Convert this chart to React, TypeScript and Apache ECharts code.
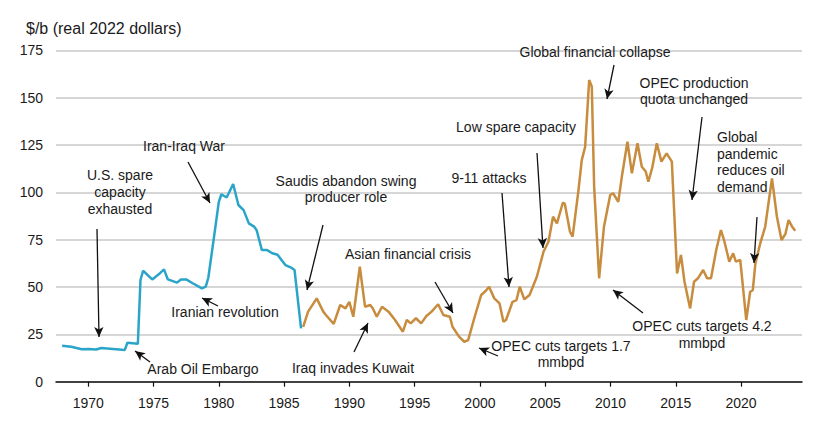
import React, { useEffect, useRef } from "react";
import * as echarts from "echarts";

const FONT = "'Liberation Sans', Arial, sans-serif";

const xTickYears = [1970, 1975, 1980, 1985, 1990, 1995, 2000, 2005, 2010, 2015, 2020];

const blueYears = [1968.0, 1968.7, 1969.5, 1970.0, 1970.6, 1971.0, 1971.9, 1972.6, 1972.8, 1973.0, 1973.8, 1974.0, 1974.2, 1974.9, 1975.4, 1975.8, 1976.1, 1976.8, 1977.1, 1977.5, 1978.0, 1978.7, 1979.0, 1979.2, 1979.6, 1980.0, 1980.2, 1980.6, 1981.1, 1981.5, 1981.9, 1982.3, 1982.7, 1982.9, 1983.3, 1983.7, 1984.1, 1984.5, 1984.8, 1985.1, 1985.5, 1985.8, 1986.3];
const blueVals = [19.0, 18.5, 17.1, 17.3, 17.0, 17.8, 17.3, 16.9, 16.8, 20.6, 20.0, 53.7, 58.6, 54.0, 56.7, 59.3, 54.0, 52.3, 54.0, 54.0, 52.0, 49.3, 50.2, 55.0, 74.8, 95.0, 99.0, 97.3, 104.4, 93.3, 90.6, 83.6, 81.9, 80.0, 69.5, 69.5, 67.8, 67.0, 64.3, 61.6, 60.4, 59.0, 28.2];

const orangeYears = [1986.46, 1986.84, 1987.5, 1988.0, 1988.2, 1988.8, 1989.3, 1989.7, 1990.0, 1990.3, 1990.8, 1991.2, 1991.6, 1991.8, 1992.1, 1992.5, 1993.0, 1993.5, 1994.1, 1994.4, 1994.7, 1995.1, 1995.5, 1995.9, 1996.3, 1996.8, 1997.2, 1997.7, 1997.9, 1998.4, 1998.8, 1999.1, 1999.6, 2000.1, 2000.5, 2000.7, 2001.1, 2001.5, 2001.8, 2002.0, 2002.5, 2002.8, 2003.05, 2003.4, 2003.8, 2004.36, 2004.87, 2005.25, 2005.6, 2005.9, 2006.35, 2006.5, 2006.9, 2007.1, 2007.55, 2007.8, 2008.06, 2008.37, 2008.57, 2008.75, 2009.13, 2009.5, 2009.98, 2010.2, 2010.6, 2010.87, 2011.3, 2011.64, 2012.07, 2012.4, 2012.7, 2012.9, 2013.2, 2013.55, 2013.9, 2014.3, 2014.7, 2015.1, 2015.4, 2015.67, 2016.1, 2016.4, 2016.7, 2017.1, 2017.4, 2017.7, 2018.1, 2018.46, 2018.7, 2019.1, 2019.4, 2019.6, 2019.94, 2020.4, 2020.7, 2020.9, 2021.1, 2021.47, 2021.85, 2022.37, 2022.75, 2023.1, 2023.4, 2023.64, 2023.9, 2024.15];
const orangeVals = [29.0, 37.0, 44.0, 37.0, 35.2, 30.5, 40.5, 38.7, 42.2, 34.3, 60.7, 39.6, 40.5, 38.7, 34.3, 39.6, 37.0, 32.6, 26.4, 32.6, 30.8, 33.5, 30.8, 34.7, 37.0, 40.9, 35.2, 34.3, 29.0, 23.8, 21.1, 22.0, 34.3, 45.8, 48.4, 50.2, 44.0, 41.4, 31.7, 32.6, 42.2, 43.1, 50.2, 43.5, 45.8, 55.4, 68.6, 73.9, 87.1, 83.6, 94.5, 94.0, 79.2, 76.6, 101.2, 117.0, 124.0, 159.3, 155.8, 103.0, 54.6, 81.8, 98.6, 99.5, 95.0, 108.2, 126.7, 110.0, 125.9, 113.5, 111.0, 105.6, 113.0, 125.9, 116.2, 120.6, 116.2, 57.2, 66.9, 52.8, 38.7, 52.8, 54.6, 59.0, 54.6, 54.6, 69.5, 80.1, 74.8, 63.4, 67.8, 63.4, 64.3, 32.6, 47.5, 48.3, 62.5, 73.0, 81.8, 107.4, 87.1, 74.8, 78.0, 85.4, 82.0, 79.7];

const annotationTexts = [
  "U.S. spare\ncapacity\nexhausted",
  "Iran-Iraq War",
  "Iranian revolution",
  "Arab Oil Embargo",
  "Saudis abandon swing\nproducer role",
  "Asian financial crisis",
  "Iraq invades Kuwait",
  "OPEC cuts targets 1.7\nmmbpd",
  "9-11 attacks",
  "Low spare capacity",
  "Global financial collapse",
  "OPEC production\nquota unchanged",
  "Global\npandemic\nreduces oil\ndemand",
  "OPEC cuts targets 4.2\nmmbpd",
];

// layout: [x, y, align]
const annotationLayout: [number, number, string][] = [
  [120, 192, "center"],
  [184, 146, "center"],
  [225, 312, "center"],
  [203, 369, "center"],
  [346, 189, "center"],
  [408, 254, "center"],
  [353, 368, "center"],
  [561, 354, "center"],
  [489, 178, "center"],
  [516, 127, "center"],
  [595, 52, "center"],
  [694, 91, "center"],
  [717, 162, "left"],
  [702, 334.5, "center"],
];

// arrows in pixels: [x1, y1, x2 (head), y2 (head)]
const arrowLayout: [number, number, number, number][] = [
  [97, 229, 99, 337],
  [188, 162, 210, 203],
  [218, 306, 202, 298],
  [150, 362, 135, 351],
  [323, 225, 307, 290],
  [435, 282, 453, 313],
  [354, 352, 368, 323],
  [498, 356, 479, 348],
  [502, 193, 509, 287],
  [537, 153, 543, 248],
  [614, 65, 607, 99],
  [702, 117, 692, 200],
  [757, 217, 754, 263],
  [643, 313, 613, 290],
];

export default function App() {
  const ref = useRef<HTMLDivElement>(null);
  useEffect(() => {
    document.body.style.margin = "0";
    const chart = echarts.init(ref.current!, null, { renderer: "svg" });
    const blue = blueYears.map((y, i) => [y, blueVals[i]]);
    const orange = orangeYears.map((y, i) => [y, orangeVals[i]]);
    chart.setOption({
      animation: false,
      backgroundColor: "#fff",
      textStyle: { fontFamily: FONT },
      title: {
        text: "$/b (real 2022 dollars)",
        left: 21,
        top: 15,
        textStyle: { fontFamily: FONT, fontSize: 16, fontWeight: "normal", color: "#1a1a1a" },
      },
      grid: { left: 56, right: 18, top: 50.3, bottom: 40.3, containLabel: false },
      xAxis: {
        type: "value",
        min: 1967.53,
        max: 2024.67,
        axisLine: { show: true, onZero: false, lineStyle: { color: "#111", width: 1.5 } },
        axisTick: { show: true, customValues: xTickYears, length: 5, lineStyle: { color: "#111", width: 1.2 } },
        axisLabel: {
          customValues: xTickYears,
          formatter: (v: number) => String(v),
          fontSize: 14,
          color: "#1a1a1a",
          margin: 14,
          fontFamily: FONT,
        },
        splitLine: { show: false },
      },
      yAxis: {
        type: "value",
        min: 0,
        max: 175,
        interval: 25,
        axisLine: { show: false },
        axisTick: { show: false },
        axisLabel: { fontSize: 14, color: "#1a1a1a", margin: 13, fontFamily: FONT },
        splitLine: { lineStyle: { color: "#c8c8c8", width: 1.5 } },
      },
      series: [
        {
          type: "line",
          data: blue,
          symbol: "none",
          lineStyle: { color: "#2aa5c9", width: 2.5 },
          z: 3,
        },
        {
          type: "line",
          data: orange,
          symbol: "none",
          lineStyle: { color: "#c78c3e", width: 2.5 },
          z: 3,
          markLine: {
            silent: true,
            symbol: ["none", "arrow"],
            symbolSize: [7, 10],
            label: { show: false },
            lineStyle: { color: "#111", width: 1.3, type: "solid" },
            data: arrowLayout.map((a) => [
              { x: a[0], y: a[1] },
              { x: a[2], y: a[3] },
            ]),
          },
        },
      ],
      graphic: annotationTexts.map((t, i) => ({
        type: "text",
        x: annotationLayout[i][0],
        y: annotationLayout[i][1],
        z: 10,
        style: {
          text: t,
          fill: "#1a1a1a",
          font: `14px ${FONT}`,
          lineHeight: 16.8,
          textAlign: annotationLayout[i][2],
          textVerticalAlign: "middle",
        },
      })),
    });
    return () => chart.dispose();
  }, []);
  return <div ref={ref} style={{ width: 820, height: 422 }} />;
}
